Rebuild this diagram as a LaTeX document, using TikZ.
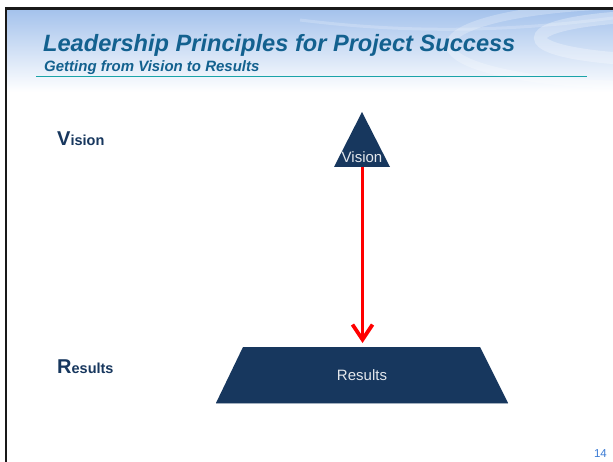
\documentclass[tikz,border=0pt]{standalone}
\usepackage{fontspec}
\setmainfont{Liberation Sans}
\usetikzlibrary{arrows.meta}
\definecolor{navy}{HTML}{17375E}
\definecolor{titleblue}{HTML}{13618F}
\definecolor{tealline}{HTML}{1AA3A8}
\definecolor{skyblue}{HTML}{A4C2EC}
\definecolor{pageblue}{HTML}{3A7BD5}

\begin{document}
\begin{tikzpicture}[x=1pt,y=-1pt,
  shapetext/.style={text=white!88!navy, inner sep=0, font=\fontsize{15}{18}\selectfont},
  sidelabel/.style={anchor=base west, inner sep=0, text=navy, font=\bfseries\fontsize{14.5}{17}\selectfont},
  heading/.style={anchor=base west, inner sep=0, text=titleblue}]
\useasboundingbox (0,0) rectangle (613,462);

% Background
\fill[white] (0,0) rectangle (613,462);

% Header band
\shade[top color=skyblue, bottom color=white] (6,9) rectangle (613,92);
\begin{scope}
\clip (6,9) rectangle (613,92);
\draw[white, opacity=0.25, line width=8] (640,45) ellipse (190 and 40);
\draw[white, opacity=0.3, line width=12] (665,38) ellipse (125 and 22);
\draw[white, opacity=0.2, line width=3] (300,20) .. controls (420,35) and (520,30) .. (613,18);
\end{scope}

% Frame
\draw[black!90, line width=2.5] (6,462) -- (6,8.5) -- (613,8.5);

% Title
\node[heading, font=\bfseries\itshape\fontsize{23.6}{28}\selectfont] (title) at (43,52) {Leadership Principles for Project Success};
\node[heading, font=\bfseries\itshape\fontsize{15}{18}\selectfont] (subtitle) at (44,72) {Getting from Vision to Results};
\draw[tealline, line width=1.2] (36,76.5) -- (587,76.5);

% Side labels
\node[sidelabel] (vislabel) at (57,146) {{\fontsize{20}{20}\selectfont V}ision};
\node[sidelabel] (reslabel) at (57,373) {{\fontsize{20}{20}\selectfont R}esults};

% Vision triangle
\coordinate (apex) at (362,112);
\fill[navy] (apex) -- (390,167) -- (334,167) -- cycle;
\node[shapetext, anchor=base] (vision) at (362,163) {Vision};

% Results trapezoid
\fill[navy] (243,347) -- (480,347) -- (508,403) -- (216,403) -- cycle;
\draw[navy!40, line width=0.8] (216,403.4) -- (508,403.4);
\node[shapetext, anchor=base] (results) at (362,380) {Results};

% Arrow
\coordinate (arrowtop) at (362.5,167);
\coordinate (arrowtip) at (362.5,343);
\draw[red, line width=3.8, -{Straight Barb[length=15pt, width=20pt]}] (arrowtop) -- (arrowtip);

% Page number
\node[text=pageblue, inner sep=0, anchor=base east, font=\fontsize{11.5}{12}\selectfont] (pagenum) at (607,457) {14};

\end{tikzpicture}
\end{document}
